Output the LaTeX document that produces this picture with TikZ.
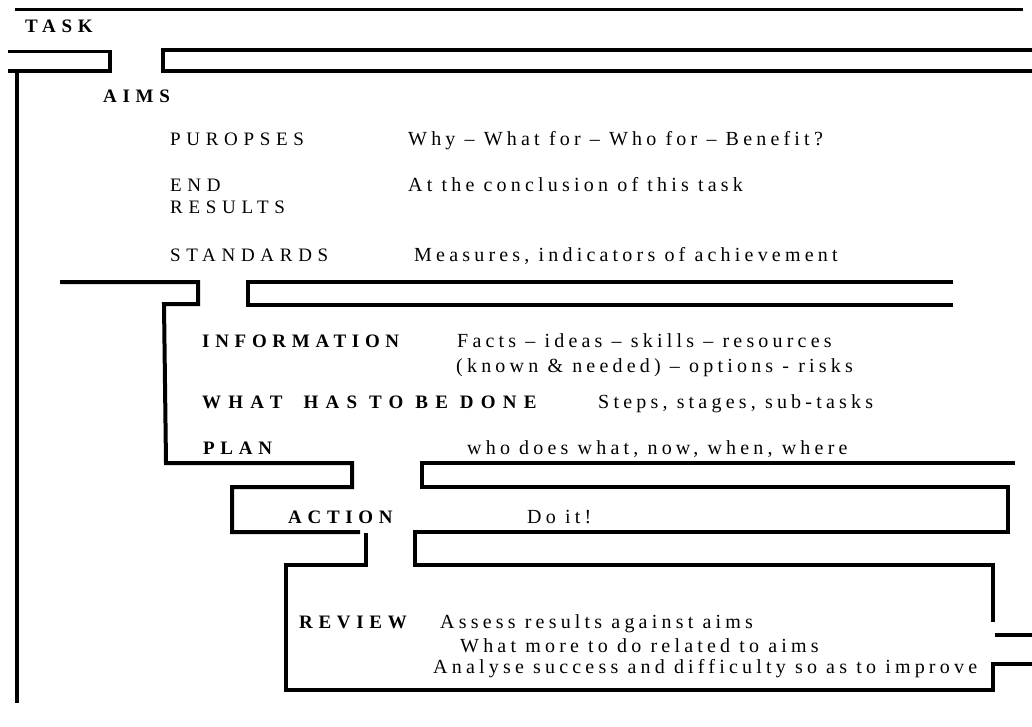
\documentclass[tikz,border=0pt]{standalone}
\usepackage{fontspec}
\setmainfont{Liberation Serif}
\newfontfamily\headfont[LetterSpace=30,WordSpace=2]{Liberation Serif}
\newfontfamily\widefont[LetterSpace=38]{Liberation Serif}
\newfontfamily\capsfont[LetterSpace=30]{Liberation Serif}
\newfontfamily\notefont[LetterSpace=21]{Liberation Serif}
\usetikzlibrary{positioning}

\begin{document}
\begin{tikzpicture}[x=1pt,y=-1pt,
    bar/.style={line width=4pt},
    head/.style={anchor=base west, inner sep=0pt, font=\fontsize{19}{22}\selectfont\headfont\bfseries},
    item/.style={anchor=base west, inner sep=0pt, font=\fontsize{19}{22}\selectfont\capsfont},
    note/.style={anchor=base west, inner sep=0pt, font=\fontsize{20}{22}\selectfont\notefont}]

  \useasboundingbox (0,0) rectangle (1032,727);

  % rails
  \draw[line width=3pt] (15,10) -- (1023,10);
  \draw[line width=3pt] (8,52) -- (110,52);
  \draw[bar] (110,50) -- (110,71) -- (8,71);
  \draw[bar] (17,71) -- (17,703);
  \draw[bar] (1032,50) -- (163,50) -- (163,71) -- (1032,71);

  \draw[bar] (60,282) -- (198,282) -- (198,304) -- (164,304) -- (166,463)
    -- (352,463) -- (352,487) -- (232,487) -- (232,532) -- (360,532);
  \draw[bar] (953,282) -- (248,282) -- (248,305) -- (953,305);

  \draw[bar] (1015,463) -- (422,463) -- (422,487) -- (1008,487) -- (1008,532)
    -- (415,532) -- (415,565) -- (993,565) -- (993,622);
  \draw[bar] (995,635) -- (1032,635);
  \draw[bar] (366,533) -- (366,565) -- (286,565) -- (286,690) -- (993,690)
    -- (993,664) -- (1032,664);

  % texts
  \node[head] (task) at (25,33) {TASK};
  \node[head] (aims) at (103,103) {AIMS};

  \node[item] (purposes) at (170,146) {PUROPSES};
  \node[note] (why) at (408,146) {Why – What for – Who for – Benefit?};
  \node[item] (end) at (170,192) {END};
  \node[item] (results) at (170,214) {RESULTS};
  \node[note] (concl) at (408,192) {At the conclusion of this task};
  \node[item] (standards) at (170,261) {STANDARDS};
  \node[note] (measures) at (414,261) {Measures, indicators of achievement};

  \node[head] (info) at (202,347) {INFORMATION};
  \node[note] (facts) at (457,347) {Facts – ideas – skills – resources};
  \node[note] (known) at (456,372) {(known \& needed) – options - risks};
  \node[head, font=\fontsize{19}{22}\selectfont\widefont\bfseries] (todo) at (202,408) {WHAT\hspace{9pt} HAS TO BE DONE};
  \node[note] (steps) at (598,408) {Steps, stages, sub-tasks};
  \node[head] (plan) at (203,454) {PLAN};
  \node[note] (who) at (467,454) {who does what, now, when, where};

  \node[head] (action) at (288,523) {ACTION};
  \node[note] (doit) at (527,523) {Do it!};

  \node[head] (review) at (299,628) {REVIEW};
  \node[note] (assess) at (440,628) {Assess results against aims};
  \node[note] (more) at (460,652) {What more to do related to aims};
  \node[note] (analyse) at (433,673) {Analyse success and difficulty so as to improve};
\end{tikzpicture}
\end{document}
